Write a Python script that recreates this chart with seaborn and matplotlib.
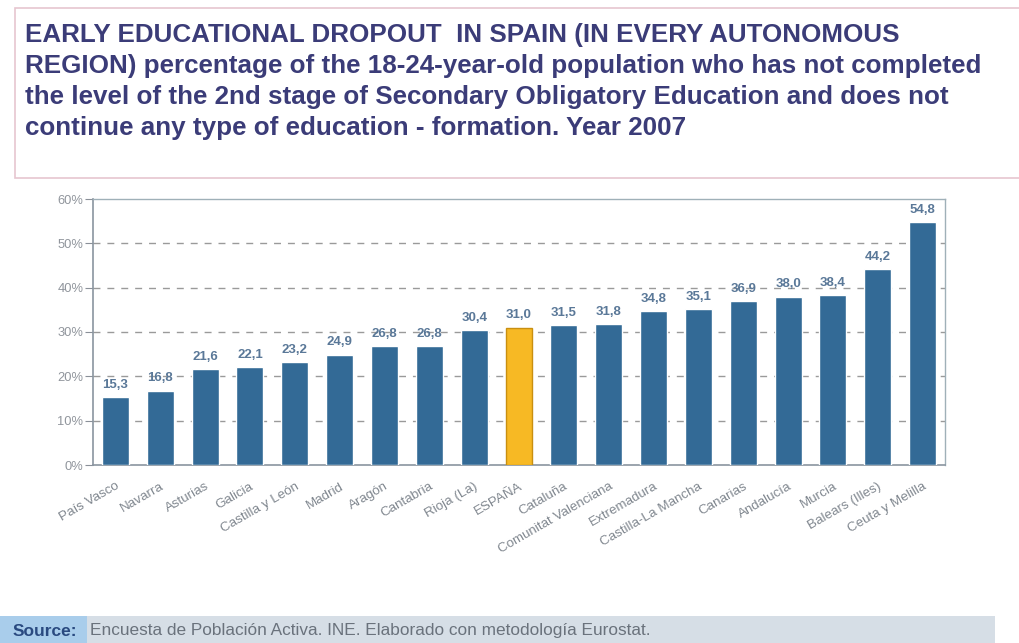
import matplotlib
matplotlib.use("Agg")
import matplotlib.pyplot as plt
from matplotlib.patches import Rectangle
import seaborn as sns
import pandas as pd

regions = ["País Vasco", "Navarra", "Asturias", "Galicia", "Castilla y León",
           "Madrid", "Aragón", "Cantabria", "Rioja (La)", "ESPAÑA", "Cataluña",
           "Comunitat Valenciana", "Extremadura", "Castilla-La Mancha", "Canarias",
           "Andalucía", "Murcia", "Balears (Illes)", "Ceuta y Melilla"]
dropout_pct = [15.3, 16.8, 21.6, 22.1, 23.2, 24.9, 26.8, 26.8, 30.4, 31.0, 31.5,
               31.8, 34.8, 35.1, 36.9, 38.0, 38.4, 44.2, 54.8]
y_ticks = [0, 10, 20, 30, 40, 50, 60]
highlight = "ESPAÑA"

title_lines = [
    "EARLY EDUCATIONAL DROPOUT  IN SPAIN (IN EVERY AUTONOMOUS",
    "REGION) percentage of the 18-24-year-old population who has not completed",
    "the level of the 2nd stage of Secondary Obligatory Education and does not",
    "continue any type of education - formation. Year 2007",
]
source_label = "Source:"
source_text = "Encuesta de Población Activa. INE. Elaborado con metodología Eurostat."

BLUE = "#336a96"
GOLD = "#f7b924"

df = pd.DataFrame({"region": regions, "pct": dropout_pct})
df["kind"] = ["total" if r == highlight else "region" for r in regions]

sns.set_theme(style="white")
plt.rcParams["font.family"] = ["Liberation Sans", "DejaVu Sans"]

fig = plt.figure(figsize=(10.19, 6.43), dpi=100)
fig.patch.set_facecolor("white")

# Title frame
fig.patches.append(Rectangle((15 / 1019, 1 - 178 / 643), 1.2, 170 / 643,
                             transform=fig.transFigure, facecolor="white",
                             edgecolor="#e6c6cf", linewidth=1.2, zorder=0))
for i, line in enumerate(title_lines):
    fig.text(25 / 1019, 1 - (35 + i * 31) / 643, line, fontsize=18.7,
             fontweight="bold", color="#3b3c78", va="center", ha="left")

ax = fig.add_axes([93 / 1019, 1 - 465 / 643, (945 - 93) / 1019, (465 - 199) / 643])
sns.barplot(data=df, x="region", y="pct", hue="kind",
            palette={"region": BLUE, "total": GOLD}, width=0.6,
            legend=False, ax=ax, saturation=1, zorder=3)

# Outline the national total bar
hi = regions.index(highlight)
for bar in ax.patches:
    if abs(bar.get_x() + bar.get_width() / 2 - hi) < 1e-6 and bar.get_height() > 0:
        bar.set_edgecolor("#c98f10")
        bar.set_linewidth(1.0)

for i, v in enumerate(dropout_pct):
    ax.text(i, v + 1.4, f"{v:.1f}".replace(".", ","), ha="center", va="bottom",
            fontsize=9.5, fontweight="bold", color="#5a7898", zorder=4)

ax.set_xlim(-0.5, len(regions) - 0.5)
ax.set_ylim(0, 60)
ax.set_yticks(y_ticks)
ax.set_yticklabels([f"{t}%" for t in y_ticks], fontsize=9.3, color="#90959c")
ax.set_xlabel("")
ax.set_ylabel("")
ax.set_xticks(range(len(regions)))
ax.set_xticklabels(regions, rotation=30, ha="right", rotation_mode="anchor",
                   fontsize=9.6, color="#80878f")
ax.tick_params(axis="y", left=True, length=6, width=0.8, color="#8a9098", pad=1)
ax.tick_params(axis="x", bottom=False, pad=5)

for t in y_ticks[1:-1]:
    ax.axhline(t, color="#9a9a9a", linestyle=(0, (5, 5)), linewidth=1.0, zorder=1)

for side in ["left", "bottom"]:
    ax.spines[side].set_color("#8a95a0")
    ax.spines[side].set_linewidth(1.2)
for side in ["top", "right"]:
    ax.spines[side].set_color("#9fb0b8")
    ax.spines[side].set_linewidth(1.0)

# Source strip at the bottom
fig.patches.append(Rectangle((0, 0), 995 / 1019, 27 / 643,
                             transform=fig.transFigure, facecolor="#d6dee6",
                             edgecolor="none", zorder=0))
fig.patches.append(Rectangle((0, 0), 87 / 1019, 27 / 643,
                             transform=fig.transFigure, facecolor="#a9cdeb",
                             edgecolor="none", zorder=0))
fig.text(13 / 1019, 1 - 631 / 643, source_label, fontsize=12.5, fontweight="bold",
         color="#2a4a80", va="center", ha="left")
fig.text(90 / 1019, 1 - 631 / 643, source_text, fontsize=12.4,
         color="#6a727c", va="center", ha="left")

fig.savefig("out.png", dpi=100, facecolor="white")
